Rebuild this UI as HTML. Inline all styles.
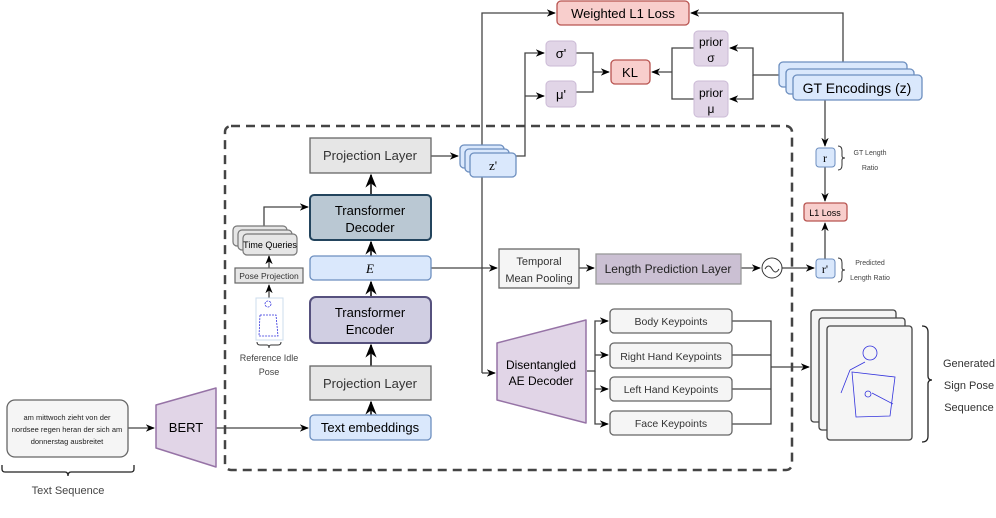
<!DOCTYPE html>
<html><head><meta charset="utf-8"><style>
html,body{margin:0;padding:0;background:#fff}
svg{display:block;font-family:"Liberation Sans",sans-serif}
</style></head><body>
<svg width="996" height="518" viewBox="0 0 996 518" xmlns="http://www.w3.org/2000/svg">
<defs>
<marker id="a" viewBox="0 0 10 10" refX="9" refY="5" markerWidth="7" markerHeight="7" orient="auto"><path d="M0,1 L10,5 L0,9 L3,5 z" fill="#000"/></marker>
</defs>
<g fill="none" stroke="#555" stroke-width="1.3">
<rect x="225" y="126" width="567" height="344" rx="6" stroke="#444" stroke-width="2.5" stroke-dasharray="9,6"/>
</g>
<!-- connectors -->
<g fill="none" stroke="#444" stroke-width="1.3">
<path d="M482 373 V13 H555" marker-end="url(#a)"/>
<path d="M482 373 H495" marker-end="url(#a)"/>
<path d="M843 62 V13 H691" marker-end="url(#a)"/>
<path d="M516 156 H525 V53 H544" marker-end="url(#a)"/>
<path d="M525 96 H544" marker-end="url(#a)"/>
<path d="M576 53 H593 V92 H576 M593 72 H609" marker-end="url(#a)"/>
<path d="M694 48 H672 V99 H694 M672 72 H652" marker-end="url(#a)"/>
<path d="M779 75 H753 V48 H730" marker-end="url(#a)"/>
<path d="M753 75 V99 H730" marker-end="url(#a)"/>
<path d="M825 100 V146" marker-end="url(#a)"/>
<path d="M825 167 V201" marker-end="url(#a)"/>
<path d="M825 259 V223" marker-end="url(#a)"/>
<path d="M431 156 H458" marker-end="url(#a)"/>
<path d="M371 195 V175" stroke-width="2" marker-end="url(#a)"/>
<path d="M371 256 V242" stroke-width="2" marker-end="url(#a)"/>
<path d="M371 297 V282" stroke-width="2" marker-end="url(#a)"/>
<path d="M371 366 V345" stroke-width="2" marker-end="url(#a)"/>
<path d="M371 415 V402" stroke-width="2" marker-end="url(#a)"/>
<path d="M264 226 V207 H308" marker-end="url(#a)"/>
<path d="M269 268 V256" marker-end="url(#a)"/>
<path d="M269 298 V285" marker-end="url(#a)"/>
<path d="M431 268 H497" marker-end="url(#a)"/>
<path d="M579 268 H594" marker-end="url(#a)"/>
<path d="M741 268 H760" marker-end="url(#a)"/>
<path d="M782 268 H814" marker-end="url(#a)"/>
<path d="M587 371 H595 V321 H608" marker-end="url(#a)"/>
<path d="M595 355 H608" marker-end="url(#a)"/>
<path d="M595 389 H608" marker-end="url(#a)"/>
<path d="M595 371 V424 H608" marker-end="url(#a)"/>
<path d="M732 321 H771 V424 H732 M732 355 H771 M732 389 H771 M771 367 H809" marker-end="url(#a)"/>
<path d="M128 428 H154" marker-end="url(#a)"/>
<path d="M216 428 H308" marker-end="url(#a)"/>
</g>
<!-- top losses -->
<rect x="557" y="1" width="132" height="24" rx="4" fill="#f8cecc" stroke="#b85450" stroke-width="1.3"/>
<text x="623" y="18" font-size="13" text-anchor="middle">Weighted L1 Loss</text>
<rect x="546" y="41" width="30" height="25" rx="4" fill="#e1d5e7" stroke="#cbbad6"/>
<text x="561" y="58" font-size="13" text-anchor="middle">σ'</text>
<rect x="546" y="81" width="30" height="26" rx="4" fill="#e1d5e7" stroke="#cbbad6"/>
<text x="561" y="99" font-size="13" text-anchor="middle">μ'</text>
<rect x="611" y="60" width="39" height="24" rx="4" fill="#f8cecc" stroke="#b85450" stroke-width="1.3"/>
<text x="630" y="77" font-size="13" text-anchor="middle">KL</text>
<rect x="694" y="31" width="34" height="35" rx="4" fill="#e1d5e7" stroke="#cbbad6"/>
<text x="711" y="46" font-size="12" text-anchor="middle">prior</text><text x="711" y="62" font-size="12" text-anchor="middle">σ</text>
<rect x="694" y="81" width="34" height="36" rx="4" fill="#e1d5e7" stroke="#cbbad6"/>
<text x="711" y="97" font-size="12" text-anchor="middle">prior</text><text x="711" y="113" font-size="12" text-anchor="middle">μ</text>
<g fill="#dae8fc" stroke="#6c8ebf" stroke-width="1.3">
<rect x="779" y="62" width="128" height="25" rx="4"/>
<rect x="786" y="69" width="128" height="25" rx="4"/>
<rect x="793" y="75" width="129" height="25" rx="4"/>
</g>
<text x="857" y="93" font-size="14" text-anchor="middle">GT Encodings (z)</text>
<!-- right column -->
<rect x="816" y="148" width="19" height="19" rx="3" fill="#dae8fc" stroke="#6c8ebf"/>
<text x="825" y="162" font-size="12" font-family="Liberation Serif" text-anchor="middle">r</text>
<path d="M838 146 q4 0 4 5 v5 q0 2 3 2 q-3 0 -3 2 v5 q0 5 -4 5" fill="none" stroke="#333"/>
<text x="870" y="155" font-size="7" fill="#444" text-anchor="middle">GT Length</text>
<text x="870" y="170" font-size="7" fill="#444" text-anchor="middle">Ratio</text>
<rect x="804" y="203" width="43" height="18" rx="3" fill="#f8cecc" stroke="#b85450" stroke-width="1.3"/>
<text x="825" y="216" font-size="9" text-anchor="middle">L1 Loss</text>
<rect x="816" y="259" width="19" height="19" rx="3" fill="#dae8fc" stroke="#6c8ebf"/>
<text x="825" y="273" font-size="12" font-family="Liberation Serif" text-anchor="middle">r'</text>
<path d="M838 258 q4 0 4 5 v5 q0 2 3 2 q-3 0 -3 2 v5 q0 5 -4 5" fill="none" stroke="#333"/>
<text x="870" y="265" font-size="7" fill="#444" text-anchor="middle">Predicted</text>
<text x="870" y="280" font-size="7" fill="#444" text-anchor="middle">Length Ratio</text>
<!-- central stack -->
<rect x="310" y="138" width="121" height="35" fill="#e6e6e6" stroke="#666" stroke-width="1.3"/>
<text x="370" y="160" font-size="13" text-anchor="middle" fill="#333">Projection Layer</text>
<g fill="#dae8fc" stroke="#6c8ebf" stroke-width="1.3">
<rect x="460" y="145" width="44" height="23" rx="4"/>
<rect x="465" y="149" width="44" height="23" rx="4"/>
<rect x="470" y="153" width="46" height="24" rx="4"/>
</g>
<text x="493" y="170" font-size="13" font-family="Liberation Serif" text-anchor="middle">z'</text>
<rect x="310" y="195" width="121" height="45" rx="4" fill="#bac8d3" stroke="#23445d" stroke-width="2"/>
<text x="370" y="215" font-size="13" text-anchor="middle">Transformer</text>
<text x="370" y="232" font-size="13" text-anchor="middle">Decoder</text>
<rect x="310" y="256" width="121" height="24" rx="4" fill="#dae8fc" stroke="#6c8ebf" stroke-width="1.3"/>
<text x="370" y="273" font-size="13" font-style="italic" font-family="Liberation Serif" text-anchor="middle">E</text>
<rect x="310" y="297" width="121" height="46" rx="6" fill="#d0cee2" stroke="#56517e" stroke-width="2"/>
<text x="370" y="317" font-size="13" text-anchor="middle">Transformer</text>
<text x="370" y="334" font-size="13" text-anchor="middle">Encoder</text>
<rect x="310" y="366" width="121" height="34" fill="#e6e6e6" stroke="#666" stroke-width="1.3"/>
<text x="370" y="388" font-size="13" text-anchor="middle" fill="#333">Projection Layer</text>
<rect x="310" y="415" width="121" height="25" rx="4" fill="#dae8fc" stroke="#6c8ebf" stroke-width="1.3"/>
<text x="370" y="432" font-size="13" text-anchor="middle">Text embeddings</text>
<!-- left aux -->
<g fill="#e6e6e6" stroke="#777" stroke-width="1.2">
<rect x="233" y="226" width="54" height="20" rx="4"/>
<rect x="238" y="230" width="54" height="20" rx="4"/>
<rect x="243" y="234" width="54" height="21" rx="4"/>
</g>
<text x="270" y="248" font-size="9" text-anchor="middle">Time Queries</text>
<rect x="235" y="268" width="68" height="15" fill="#e6e6e6" stroke="#666" stroke-width="1.2"/>
<text x="269" y="279" font-size="8.5" text-anchor="middle" fill="#333">Pose Projection</text>
<rect x="256" y="298" width="27" height="42" fill="#fff" stroke="#cde" />
<g fill="none" stroke="#33d" stroke-width="0.8" stroke-dasharray="2,1">
<circle cx="268" cy="304" r="3"/><path d="M260 315 H276 L278 336 H259 Z"/>
</g>
<path d="M257 342 q0 3 3 3 h7 q2 0 2 3 q0 -3 2 -3 h7 q3 0 3 -3" fill="none" stroke="#333"/>
<text x="269" y="361" font-size="9" text-anchor="middle" fill="#444">Reference Idle</text>
<text x="269" y="375" font-size="9" text-anchor="middle" fill="#444">Pose</text>
<!-- mid right -->
<rect x="499" y="249" width="80" height="39" fill="#f5f5f5" stroke="#666" stroke-width="1.3"/>
<text x="539" y="265" font-size="11" text-anchor="middle" fill="#333">Temporal</text>
<text x="539" y="282" font-size="11" text-anchor="middle" fill="#333">Mean Pooling</text>
<rect x="596" y="254" width="145" height="30" fill="#cbc0d3" stroke="#999" stroke-width="1.3"/>
<text x="668" y="273" font-size="12" text-anchor="middle" fill="#222">Length Prediction Layer</text>
<circle cx="772" cy="268" r="10" fill="#fff" stroke="#333"/>
<path d="M765 269 q3.5 -6 7 0 q3.5 6 7 0" fill="none" stroke="#333"/>
<path d="M497 343 L586 320 V423 L497 400 Z" fill="#e1d5e7" stroke="#9673a6" stroke-width="1.5" stroke-linejoin="round"/>
<text x="541" y="369" font-size="12" text-anchor="middle">Disentangled</text>
<text x="541" y="385" font-size="12" text-anchor="middle">AE Decoder</text>
<g fill="#f5f5f5" stroke="#666" stroke-width="1.3">
<rect x="610" y="309" width="122" height="24" rx="4"/>
<rect x="610" y="343" width="122" height="25" rx="4"/>
<rect x="610" y="377" width="122" height="24" rx="4"/>
<rect x="610" y="411" width="122" height="24" rx="4"/>
</g>
<g font-size="10.5" text-anchor="middle" fill="#333">
<text x="671" y="325">Body Keypoints</text>
<text x="671" y="360">Right Hand Keypoints</text>
<text x="671" y="393">Left Hand Keypoints</text>
<text x="671" y="427">Face Keypoints</text>
</g>
<g fill="#f5f5f5" stroke="#444" stroke-width="1.3">
<rect x="811" y="310" width="85" height="112" rx="3"/>
<rect x="819" y="318" width="86" height="112" rx="3"/>
<rect x="827" y="326" width="85" height="114" rx="3"/>
</g>
<g fill="none" stroke="#33d" stroke-width="0.8">
<circle cx="870" cy="353" r="7"/><path d="M852 372 L895 377 L890 416 L856 417 Z M850 370 L841 393 M865 362 L850 370 M872 393 L893 404"/>
<circle cx="868" cy="394" r="3"/>
</g>
<path d="M922 326 q6 0 6 6 v44 q0 4 4 4 q-4 0 -4 4 v52 q0 6 -6 6" fill="none" stroke="#222" stroke-width="1.3"/>
<g font-size="11" text-anchor="middle" fill="#333">
<text x="969" y="367">Generated</text>
<text x="969" y="389">Sign Pose</text>
<text x="969" y="411">Sequence</text>
</g>
<!-- text input -->
<rect x="7" y="400" width="121" height="57" rx="8" fill="#f5f5f5" stroke="#666" stroke-width="1.3"/>
<g font-size="7.5" text-anchor="middle" fill="#222">
<text x="67" y="420">am mittwoch zieht von der</text>
<text x="67" y="432">nordsee regen heran der sich am</text>
<text x="67" y="444">donnerstag ausbreitet</text>
</g>
<path d="M2 465 v4 q0 3 3 3 h60 q3 0 3 4 q0 -4 3 -4 h60 q3 0 3 -3 v-4" fill="none" stroke="#222" stroke-width="1.3"/>
<text x="68" y="494" font-size="11" text-anchor="middle" fill="#444">Text Sequence</text>
<path d="M156 405 L216 388 V467 L156 448 Z" fill="#e1d5e7" stroke="#9673a6" stroke-width="1.5" stroke-linejoin="round"/>
<text x="186" y="432" font-size="13" text-anchor="middle">BERT</text>
</svg>
</body></html>
